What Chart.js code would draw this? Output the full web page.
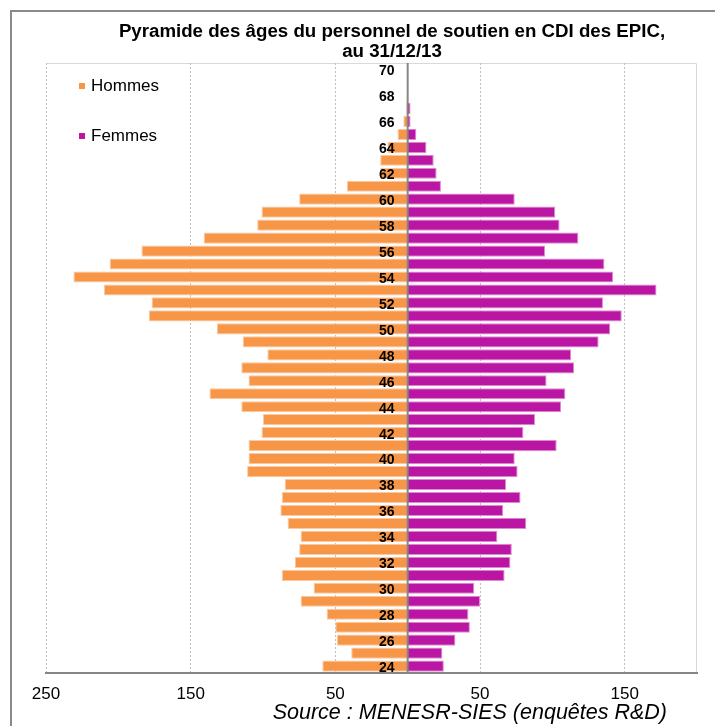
<!DOCTYPE html>
<html>
<head>
<meta charset="utf-8">
<script src="https://cdn.jsdelivr.net/npm/chart.js@4"></script>
<style>
  body { margin: 0; background: #fff; }
</style>
</head>
<body>
<canvas id="chart" width="715" height="726"></canvas>
<script>
const ages = [24, 25, 26, 27, 28, 29, 30, 31, 32, 33, 34, 35, 36, 37, 38, 39, 40, 41, 42, 43, 44, 45, 46, 47,
  48, 49, 50, 51, 52, 53, 54, 55, 56, 57, 58, 59, 60, 61, 62, 63, 64, 65, 66, 67, 68, 69, 70];
const hommes = [59, 39, 49, 50, 56, 74, 65, 87, 78, 75, 74, 83, 88, 87, 85, 111, 110, 110, 101, 100, 115, 137, 110, 115,
  97, 114, 132, 179, 177, 210, 231, 206, 184, 141, 104, 101, 75, 42, 19, 19, 14, 7, 3, 1, 0, 0, 0];
const femmes = [25, 24, 33, 43, 42, 50, 46, 67, 71, 72, 62, 82, 66, 78, 68, 76, 74, 103, 80, 88, 106, 109, 96, 115,
  113, 132, 140, 148, 135, 172, 142, 136, 95, 118, 105, 102, 74, 23, 20, 18, 13, 6, 2, 2, 0, 0, 0];
const xTicks = [-250, -150, -50, 50, 150];

const titleLines = ["Pyramide des âges du personnel de soutien en CDI des EPIC,", "au 31/12/13"];
const sourceText = "Source : MENESR-SIES (enquêtes R&D)";
const family = "'Liberation Sans', Arial, sans-serif";

const orange = "#F79646";
const magenta = "#BB16A3";

// title, legend, source, frames and the centre line drawn by hand
const decor = {
  id: "decor",
  beforeDraw(chart) {
    const { ctx, chartArea: a } = chart;
    ctx.save();
    ctx.strokeStyle = "#8a8a8a";
    ctx.lineWidth = 2;
    ctx.beginPath();
    ctx.moveTo(11, 726);
    ctx.lineTo(11, 11);
    ctx.lineTo(715, 11);
    ctx.stroke();

    ctx.strokeStyle = "#d9d9d9";
    ctx.lineWidth = 1;
    ctx.beginPath();
    ctx.moveTo(a.left, a.top + 0.5);
    ctx.lineTo(a.right - 0.5, a.top + 0.5);
    ctx.lineTo(a.right - 0.5, a.bottom);
    ctx.stroke();
    ctx.restore();
  },
  afterDatasetsDraw(chart) {
    const { ctx, chartArea: a, scales } = chart;
    const x0 = scales.x.getPixelForValue(0);
    ctx.save();
    ctx.strokeStyle = "#868686";
    ctx.lineWidth = 2;
    ctx.beginPath();
    ctx.moveTo(x0, a.top);
    ctx.lineTo(x0, a.bottom);
    ctx.stroke();
    ctx.restore();
  },
  afterDraw(chart) {
    const ctx = chart.ctx;
    ctx.save();
    ctx.fillStyle = "#000";
    ctx.textAlign = "center";
    ctx.textBaseline = "middle";
    ctx.font = "bold 18.7px " + family;
    ctx.fillText(titleLines[0], 392, 32);
    ctx.fillText(titleLines[1], 392, 52);

    ctx.textAlign = "left";
    ctx.font = "17px " + family;
    chart.data.datasets.forEach((ds, i) => {
      const y = 86 + i * 50;
      ctx.fillStyle = ds.backgroundColor;
      ctx.fillRect(79, y - 3, 6, 6);
      ctx.fillStyle = "#000";
      ctx.fillText(ds.label, 91, y);
    });

    ctx.textAlign = "right";
    ctx.font = "italic 21.5px " + family;
    ctx.fillText(sourceText, 667, 713);
    ctx.restore();
  }
};

const chart = new Chart(document.getElementById("chart").getContext("2d"), {
  type: "bar",
  data: {
    labels: ages,
    datasets: [
      {
        label: "Hommes",
        data: hommes.map(v => -v),
        backgroundColor: orange,
        borderColor: "#FBC9A3",
        borderWidth: 1
      },
      {
        label: "Femmes",
        data: femmes,
        backgroundColor: magenta,
        borderColor: "#DE8AD1",
        borderWidth: 1
      }
    ]
  },
  options: {
    indexAxis: "y",
    responsive: false,
    animation: false,
    barPercentage: 0.86,
    categoryPercentage: 1,
    layout: { padding: { top: 63, left: 46, right: 18, bottom: 9 } },
    plugins: { legend: { display: false }, tooltip: { enabled: false } },
    scales: {
      x: {
        stacked: true,
        min: -250,
        max: 200,
        afterBuildTicks: s => { s.ticks = xTicks.map(v => ({ value: v })); },
        ticks: {
          callback: v => Math.abs(v),
          font: { size: 17, family: family },
          color: "#000",
          padding: 12,
          maxRotation: 0
        },
        grid: { color: "#bfbfbf", drawTicks: false },
        border: { color: "#868686", width: 2, dash: [2, 2] }
      },
      y: {
        stacked: true,
        reverse: true,
        position: { x: -9 },
        ticks: {
          z: 2,
          autoSkip: false,
          labelOffset: 2,
          callback: function (v) {
            const a = this.getLabelForValue(v);
            return a % 2 === 0 ? a : "";
          },
          font: { size: 14, weight: "bold", family: family },
          color: "#000",
          padding: 0
        },
        grid: { display: false },
        border: { display: false }
      }
    }
  },
  plugins: [decor]
});
</script>
</body>
</html>
